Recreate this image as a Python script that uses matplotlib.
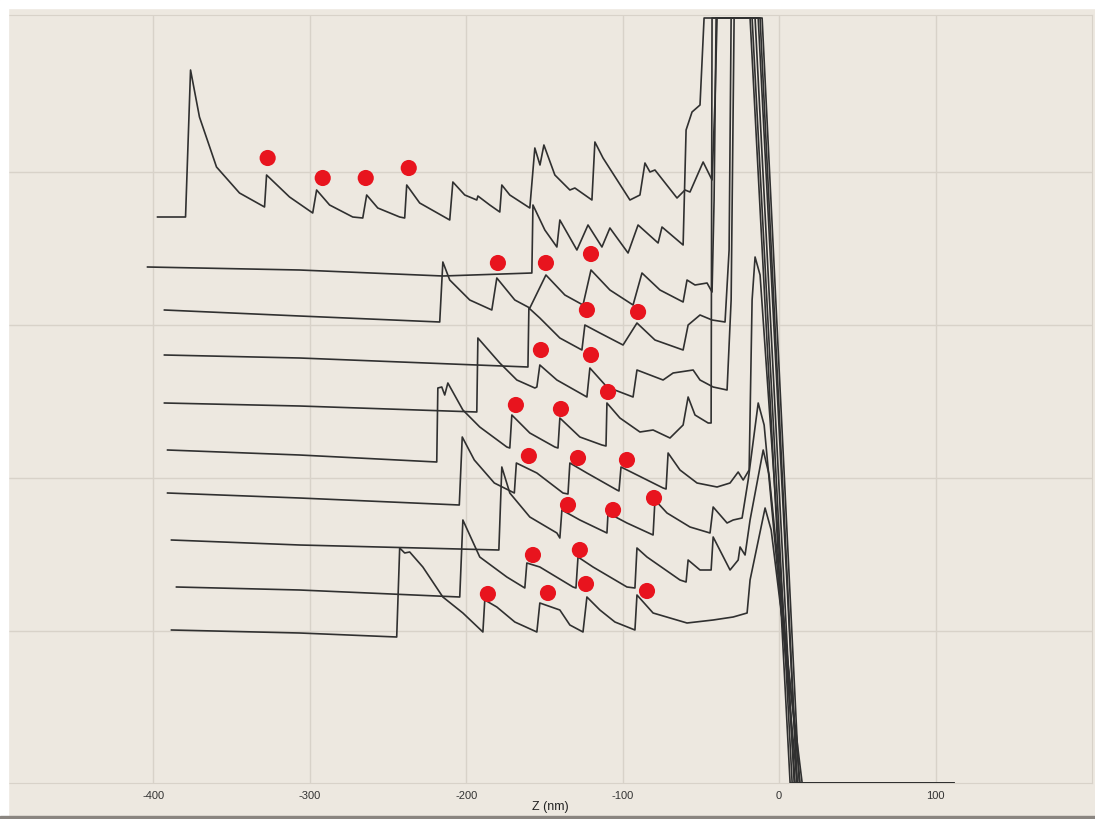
import matplotlib
matplotlib.use("Agg")
import matplotlib.pyplot as plt
from matplotlib.patches import Rectangle

plt.rcParams['axes.unicode_minus'] = False
plt.rcParams['font.family'] = ['Liberation Sans', 'DejaVu Sans']

# force curves, Z in nm, deflection in pN (traces stacked top to bottom)
z0 = [-397.4, -379.5, -376.3, -370.6, -359.7, -345.0, -329.0, -327.7, -313.0, -298.2, -295.7, -287.4, -272.6,
      -266.2, -263.7, -256.6, -242.6, -239.4, -238.1, -229.8, -210.6, -208.6, -201.0, -193.3, -192.6, -185.0,
      -178.6, -177.3, -172.2, -159.4, -156.2, -152.9, -150.4, -143.4, -133.8, -130.6, -119.7, -117.8, -112.6,
      -95.4, -89.0, -85.8, -82.6, -79.4, -65.3, -60.2, -57.0, -48.6, -42.9, -41.0, -39.7, -12.2, 11.5, 111.4]
f0 = [566, 566, 713, 666, 616, 590, 576, 608, 586, 570, 593, 578, 566, 565, 588, 575, 566, 565, 598, 580, 563,
      601, 588, 583, 587, 578, 571, 598, 588, 575, 635, 618, 638, 608, 593, 595, 583, 641, 625, 583, 588, 620,
      611, 613, 585, 593, 591, 621, 603, 683, 765, 765, 0, 0]

z1 = [-403.8, -306.6, -215.0, -158.1, -157.4, -149.8, -142.1, -140.2, -129.3, -122.2, -113.3, -108.2, -96.6,
      -90.2, -77.4, -74.9, -61.4, -59.5, -55.7, -50.6, -48.0, -17.3, 8.3, 111.4]
f1 = [516, 513, 507, 510, 578, 553, 536, 563, 533, 558, 536, 555, 530, 558, 540, 556, 538, 653, 671, 678, 765,
      765, 0, 0]

z2 = [-393.0, -306.6, -217.0, -215.0, -210.6, -197.8, -183.7, -180.5, -169.0, -159.4, -149.1, -137.0, -125.4,
      -120.3, -108.2, -93.4, -87.7, -76.2, -61.4, -58.9, -53.8, -46.1, -42.9, -41.6, -40.3, -15.4, 9.6, 111.4]
f2 = [473, 467, 461, 521, 503, 483, 473, 505, 483, 475, 508, 488, 478, 513, 493, 478, 510, 493, 481, 503, 498,
      500, 491, 583, 765, 765, 0, 0]

z3 = [-393.0, -306.6, -193.3, -160.6, -160.0, -153.0, -140.2, -126.1, -124.2, -114.6, -99.8, -90.9, -79.4,
      -61.4, -58.2, -50.6, -42.9, -34.6, -32.0, -30.7, -10.9, 12.8, 111.4]
f3 = [428, 425, 418, 416, 475, 465, 445, 433, 458, 450, 438, 460, 443, 433, 458, 468, 463, 461, 533, 765, 765,
      0, 0]

z4 = [-393.0, -306.6, -193.3, -192.6, -178.6, -167.7, -156.2, -154.9, -153.0, -142.1, -122.9, -121.0, -110.1,
      -93.4, -90.9, -74.2, -67.8, -55.0, -50.6, -42.2, -33.3, -30.7, -28.8, -13.4, 11.5, 111.4]
f4 = [380, 377, 371, 445, 420, 403, 395, 396, 418, 403, 386, 415, 396, 386, 413, 403, 410, 413, 403, 396, 393,
      483, 765, 765, 0, 0]

z5 = [-391.0, -306.6, -218.9, -218.2, -215.7, -213.8, -211.8, -202.2, -191.4, -174.1, -172.2, -170.9, -159.4,
      -143.4, -141.4, -140.2, -127.4, -113.3, -110.7, -110.1, -101.8, -89.0, -80.6, -69.8, -61.4, -58.2, -53.8,
      -45.4, -43.5, -42.9, -18.6, 7.0, 111.4]
f5 = [333, 328, 321, 395, 396, 388, 400, 373, 356, 336, 335, 368, 350, 336, 335, 365, 346, 338, 337, 380, 365,
      351, 353, 345, 358, 386, 368, 360, 360, 765, 765, 0, 0]

z6 = [-391.0, -306.6, -204.5, -202.6, -194.9, -182.1, -169.3, -168.0, -154.9, -138.2, -135.0, -133.8, -122.9,
      -103.7, -102.4, -101.1, -93.4, -74.2, -72.3, -71.0, -63.4, -52.5, -39.7, -31.4, -26.2, -23.0, -19.2,
      -17.3, -15.4, -12.2, 10.2, 111.4]
f6 = [290, 285, 278, 346, 323, 300, 290, 320, 310, 290, 289, 320, 310, 293, 292, 316, 310, 295, 294, 330, 313,
      300, 296, 300, 311, 303, 313, 483, 526, 508, 0, 0]

z7 = [-388.5, -306.6, -179.2, -177.3, -172.2, -159.4, -142.1, -140.2, -138.9, -127.4, -110.1, -109.4, -97.3,
      -80.6, -79.4, -71.7, -57.0, -44.2, -42.2, -33.3, -29.4, -23.7, -19.8, -13.4, -9.6, 11.5, 111.4]
f7 = [243, 238, 233, 316, 290, 266, 250, 245, 273, 263, 250, 270, 260, 248, 283, 270, 256, 250, 276, 260, 263,
      265, 303, 380, 358, 0, 0]

z8 = [-385.3, -306.6, -204.2, -202.2, -191.4, -174.1, -162.6, -161.3, -153.0, -131.8, -129.9, -128.6, -119.0,
      -97.3, -92.2, -90.9, -84.5, -63.4, -59.5, -58.2, -50.6, -43.5, -42.2, -31.4, -26.2, -25.0, -21.8, -18.6,
      -10.2, -6.4, 13.4, 111.4]
f8 = [196, 193, 186, 263, 226, 206, 195, 220, 216, 196, 195, 226, 216, 196, 195, 235, 226, 203, 201, 223, 213,
      213, 246, 213, 223, 236, 228, 263, 333, 308, 0, 0]

z9 = [-388.5, -306.6, -244.5, -242.6, -239.4, -236.2, -227.8, -215.0, -202.2, -189.4, -188.2, -180.5, -169.0,
      -154.9, -153.0, -140.2, -133.8, -125.4, -122.9, -114.6, -105.0, -92.2, -90.9, -80.6, -58.9, -42.2, -29.4,
      -20.5, -18.6, -9.0, -5.1, 14.7, 111.4]
f9 = [153, 150, 146, 235, 230, 231, 216, 186, 170, 151, 183, 176, 161, 151, 180, 173, 158, 151, 186, 173, 161,
      153, 188, 170, 160, 163, 166, 170, 203, 275, 253, 0, 0]

# unfolding events marked with red dots
peak_z = [-327.0, -291.8, -264.3, -236.8,
          -179.8, -149.1, -120.3,
          -122.9, -90.2,
          -152.3, -120.3,
          -168.3, -139.5, -109.4,
          -160.0, -128.6, -97.3,
          -135.0, -106.2, -80.0,
          -157.4, -127.4,
          -186.2, -147.8, -123.5, -84.5]
peak_f = [625, 605, 605, 615,
          520, 520, 529,
          473, 471,
          433, 428,
          378, 374, 391,
          327, 325, 323,
          278, 273, 285,
          228, 233,
          189, 190, 199, 192]

xticks = [-400, -300, -200, -100, 0, 100]
yticks = [152, 305, 458, 611]

bg = '#ede8e0'
fig = plt.figure(figsize=(10.95, 8.19), dpi=100, facecolor=bg)
fig.patches.append(Rectangle((0, 0.99), 1, 0.01, transform=fig.transFigure, color='white', zorder=0))
fig.patches.append(Rectangle((0, 0), 0.007, 1, transform=fig.transFigure, color='white', zorder=0))
fig.patches.append(Rectangle((0, 0), 1, 0.004, transform=fig.transFigure, color='#8a8580', zorder=0))

ax = fig.add_axes([8 / 1095, 36 / 819, 1084 / 1095, 768 / 819])
ax.set_facecolor(bg)

traces = [(z0, f0), (z1, f1), (z2, f2), (z3, f3), (z4, f4),
          (z5, f5), (z6, f6), (z7, f7), (z8, f8), (z9, f9)]
for z, f in traces:
    ax.plot(z, f, color='#303030', lw=1.2, zorder=3)

ax.scatter(peak_z, peak_f, s=135, color='#e8141e', edgecolors='none', zorder=4)

ax.set_xlim(-493, 200)
ax.set_ylim(0, 768)
ax.set_xticks(xticks)
ax.set_xticklabels([str(t) for t in xticks])
ax.set_yticks(yticks)
ax.set_yticklabels([])
ax.grid(True, color='#d8d2c9', lw=1, zorder=0)
ax.tick_params(length=0, labelsize=8, pad=6, colors='#333333')
for s in ax.spines.values():
    s.set_color('#d8d2c9')
ax.set_xlabel('Z (nm)', fontsize=9, labelpad=0, color='#222222')

fig.savefig('out.png', dpi=100, facecolor=bg)
